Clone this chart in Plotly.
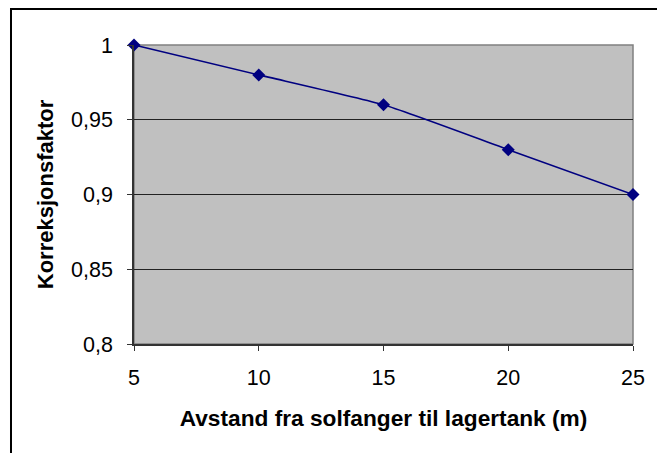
import plotly.graph_objects as go

distance_m = [5, 10, 15, 20, 25]
correction_factor = [1.0, 0.98, 0.96, 0.93, 0.90]

y_tickvals = [0.8, 0.85, 0.9, 0.95, 1.0]
y_ticktext = ["0,8", "0,85", "0,9", "0,95", "1"]
x_tickvals = [5, 10, 15, 20, 25]
x_ticktext = ["5", "10", "15", "20", "25"]

x_title = "Avstand fra solfanger til lagertank (m)"
y_title = "Korreksjonsfaktor"

FONT = "Liberation Sans, Arial, sans-serif"

fig = go.Figure()
fig.add_trace(go.Scatter(
    x=distance_m, y=correction_factor,
    mode="lines+markers",
    line=dict(color="#000080", width=1.6, shape="spline", smoothing=0.5),
    marker=dict(symbol="diamond", size=10, color="#000080"),
    cliponaxis=False,
    showlegend=False,
))

fig.update_layout(
    width=657, height=453,
    margin=dict(l=134, r=24, t=45, b=109),
    paper_bgcolor="white",
    plot_bgcolor="#C0C0C0",
    font=dict(family=FONT, color="black", size=21),
    xaxis=dict(
        range=[5, 25], tickvals=x_tickvals, ticktext=x_ticktext,
        showgrid=False, zeroline=False,
        showline=True, linecolor="#333333", linewidth=1.5,
        ticks="outside", ticklen=5, tickcolor="#333333", tickwidth=1,
        ticklabelstandoff=8,
        tickfont=dict(size=21.5),
        title=dict(text=x_title, font=dict(size=22.7, weight="bold"), standoff=22),
        mirror=False,
    ),
    yaxis=dict(
        range=[0.8, 1.0], tickvals=y_tickvals, ticktext=y_ticktext,
        showgrid=True, gridcolor="#222222", gridwidth=1,
        zeroline=False,
        showline=True, linecolor="#333333", linewidth=1.5,
        ticks="outside", ticklen=5, tickcolor="#333333", tickwidth=1,
        ticklabelstandoff=10,
        tickfont=dict(size=21.5),
        title=dict(text=y_title, font=dict(size=22, weight="bold"), standoff=11),
    ),
    shapes=[
        dict(type="rect", xref="paper", yref="paper", x0=0, y0=0, x1=1, y1=1,
             line=dict(color="#808080", width=1.5), layer="below"),
        dict(type="rect", xref="paper", yref="paper",
             x0=-0.2465, y0=-0.5, x1=1.2, y1=1.1204,
             line=dict(color="black", width=2), layer="below"),
    ],
)

fig.write_html("out.html", config={"displayModeBar": False},
               post_script="document.body.style.margin='0';")
